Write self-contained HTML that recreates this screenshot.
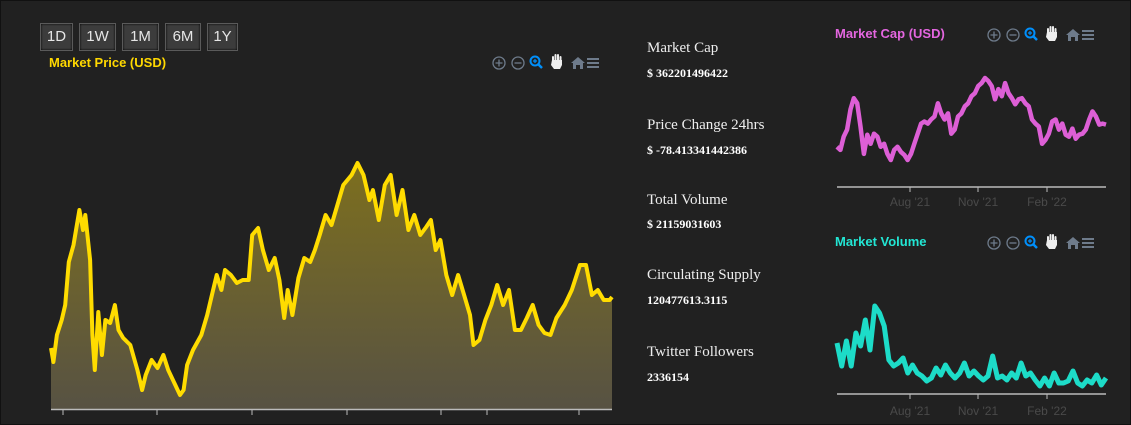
<!DOCTYPE html>
<html><head><meta charset="utf-8">
<style>
html,body{margin:0;padding:0;background:#212121;width:1131px;height:425px;overflow:hidden;font-family:"Liberation Sans",sans-serif;}
#frame{position:absolute;left:0;top:0;width:1129px;height:423px;border:1px solid #111;}
.btn{position:absolute;top:23px;height:26px;background:#3c3c3c;border:1px solid #5a5a5a;color:#e6e6e6;font-size:15px;line-height:26px;text-align:center;box-shadow:inset 0 0 2px #000;}
.ttl{position:absolute;font-weight:bold;font-size:13px;}
.stat{position:absolute;left:647px;color:#eee;font-family:"Liberation Serif",serif;font-size:15px;}
.val{position:absolute;left:647px;color:#fff;font-family:"Liberation Serif",serif;font-size:12px;font-weight:bold;}
svg{position:absolute;left:0;top:0;}
</style></head><body>
<div id="frame"></div>
<div class="btn" style="left:40px;width:31px">1D</div>
<div class="btn" style="left:79px;width:35px">1W</div>
<div class="btn" style="left:122px;width:35px">1M</div>
<div class="btn" style="left:165px;width:34px">6M</div>
<div class="btn" style="left:207px;width:29px">1Y</div>
<div class="ttl" style="left:49px;top:55px;color:#ffd800">Market Price (USD)</div>
<div class="ttl" style="left:835px;top:26px;color:#e466e0">Market Cap (USD)</div>
<div class="ttl" style="left:835px;top:234px;color:#22e6d4">Market Volume</div>

<div class="stat" style="top:40px">Market Cap</div>
<div class="val" style="top:66px">$ 362201496422</div>
<div class="stat" style="top:117px">Price Change 24hrs</div>
<div class="val" style="top:143px">$ -78.413341442386</div>
<div class="stat" style="top:192px">Total Volume</div>
<div class="val" style="top:217px">$ 21159031603</div>
<div class="stat" style="top:267px">Circulating Supply</div>
<div class="val" style="top:293px">120477613.3115</div>
<div class="stat" style="top:344px">Twitter Followers</div>
<div class="val" style="top:370px">2336154</div>

<svg id="chart" width="1131" height="425">
<defs><linearGradient id="fillg" x1="0" y1="0" x2="0" y2="1"><stop offset="0" stop-color="#7d6f1e"/><stop offset="1" stop-color="#575243"/></linearGradient></defs>
</svg>
<script>
// Main price chart data (day index, price)
const priceDays=[0,2,5,9,12,15,19,24,27,29,33,35,37,40,43,46,50,54,57,61,67,73,77,80,85,90,95,99,105,109,112,115,120,127,132,137,140,144,147,152,157,162,167,170,175,179,184,189,193,197,200,204,209,214,219,223,227,232,237,242,247,254,259,264,269,272,277,282,287,292,297,302,307,312,317,321,325,329,334,339,344,349,354,357,362,367,372,377,382,387,392,397,402,407,412,417,422,427,434,440,447,452,457,462,467,472,474];
const priceVals=[61,47,74,89,104,147,164,199,179,194,149,74,39,97,54,89,86,104,79,71,64,39,19,34,49,41,54,39,24,14,19,44,59,74,94,119,134,119,139,134,126,129,129,174,181,159,139,151,129,91,119,94,131,151,147,159,174,194,184,204,224,234,246,234,209,219,189,224,234,194,219,179,194,174,182,189,159,169,134,114,134,114,94,64,69,89,104,124,104,119,79,79,91,104,84,76,74,91,104,119,144,144,114,119,109,109,112];
const priceTicks=[0,1,2,3,4,5,6];
// Market cap series (values)
const capVals=[80,77,90,97,117,128,123,100,73,92,83,93,90,80,83,73,67,77,80,75,72,67,73,83,93,103,105,103,107,110,123,113,107,113,93,97,110,113,120,123,130,133,140,143,148,145,140,127,137,130,143,133,128,122,127,128,123,120,107,103,100,83,87,93,105,107,97,103,92,90,98,88,92,93,97,107,115,110,102,103,102];
// Market volume series (values)
const volVals=[50,27,52,27,60,47,73,43,87,80,67,33,27,30,35,20,28,20,17,12,15,25,18,28,20,15,20,30,17,22,17,13,17,37,15,17,13,20,15,30,17,20,13,7,15,7,20,10,10,12,22,10,7,13,10,18,8,15];
const capTicks=["Aug '21","Nov '21","Feb '22"];

const svg=document.getElementById('chart');
const NS='http://www.w3.org/2000/svg';
function mk(t,a){const e=document.createElementNS(NS,t);for(const k in a)e.setAttribute(k,a[k]);svg.appendChild(e);return e;}

const mx0=51,mx1=612,my0=409,mmax=260,dmax=474;
const X=d=>mx0+d/dmax*(mx1-mx0);
const Y=v=>my0-v/mmax*260;
let pts=priceDays.map((d,i)=>X(d).toFixed(1)+','+Y(priceVals[i]).toFixed(1));
const area=mk('path',{d:'M'+X(priceDays[0])+','+my0+' L'+pts.join(' L')+' L'+X(priceDays[priceDays.length-1])+','+my0+' Z',fill:'url(#fillg)'});


const line=mk('polyline',{points:pts.join(' '),fill:'none',stroke:'#ffdc00','stroke-width':4,'stroke-linejoin':'round'});


const ax=mk('line',{x1:mx0,x2:mx1,y1:409.5,y2:409.5,stroke:'#bbb','stroke-width':1.5});


const tickXs=[63,157,252,347,441,487,579];
priceTicks.forEach(i=>{const t=mk('line',{x1:tickXs[i],x2:tickXs[i],y1:410,y2:415,stroke:'#bbb'});

});

function small(vals,yLow,yHigh,color,name,w){
  const x0=837,x1=1106;
  const vmin=Math.min(...vals),vmax=Math.max(...vals);
  const sx=i=>x0+i/(vals.length-1)*(x1-x0);
  const sy=v=>yLow-(v-vmin)/(vmax-vmin)*(yLow-yHigh);
  const p=mk('polyline',{points:vals.map((v,i)=>sx(i).toFixed(1)+','+sy(v).toFixed(1)).join(' '),fill:'none',stroke:color,'stroke-width':w,'stroke-linejoin':'round'});
  
  
}
small(capVals,160,78,'#dd5fd6','cap',4.5);
small(volVals,386,306,'#1ddcc8','volume',5);
[[187,206],[394,415]].forEach(([ay,ly],k)=>{
  const a=mk('line',{x1:837,x2:1106,y1:ay,y2:ay,stroke:'#bbb','stroke-width':1.5});
  
  
  [910,978,1047].forEach((tx,i)=>{
    const t=mk('line',{x1:tx,x2:tx,y1:ay,y2:ay+5,stroke:'#bbb'});
    
    
    const l=mk('text',{x:tx,y:ly,'text-anchor':'middle','font-size':12,fill:'#4a4a4a','font-family':'Liberation Sans, sans-serif'});
    l.textContent=capTicks[i];
    
    
  });
});

function toolbar(x,y,name){
  const g=document.createElementNS(NS,'g');g.setAttribute('transform','translate('+x+','+y+')');svg.appendChild(g);
  
  
  g.innerHTML='<circle cx="6" cy="0" r="6" fill="none" stroke="#6e7b8b" stroke-width="1.3"/><path d="M2.5 0h7M6 -3.5v7" stroke="#6e7b8b" stroke-width="1.3"/>'+
  '<circle cx="25" cy="0" r="6" fill="none" stroke="#6e7b8b" stroke-width="1.3"/><path d="M21.5 0h7" stroke="#6e7b8b" stroke-width="1.3"/>'+
  '<circle cx="42" cy="-2" r="4.5" fill="none" stroke="#008ffb" stroke-width="2"/><path d="M45 1l4 4" stroke="#008ffb" stroke-width="2.5"/><path d="M40 -2h4M42 -4v4" stroke="#008ffb" stroke-width="1.2"/>'+
  '<path d="M60 -2v-4M62.5 -3v-5M65 -3v-5M67.5 -2v-4" stroke="#eee" stroke-width="2" stroke-linecap="round"/><path d="M59 -3h10v5l-2 4h-6l-3-4z" fill="#eee"/>'+
  '<path d="M78 0l7-6 7 6h-2v6h-3v-4h-4v4h-3v-6z" fill="#6e7b8b"/>'+
  '<path d="M94 -4h12M94 0h12M94 4h12" stroke="#6e7b8b" stroke-width="2"/>';
}
toolbar(493,63,'price-toolbar');
toolbar(988,35,'cap-toolbar');
toolbar(988,243,'volume-toolbar');
</script>
</body></html>
